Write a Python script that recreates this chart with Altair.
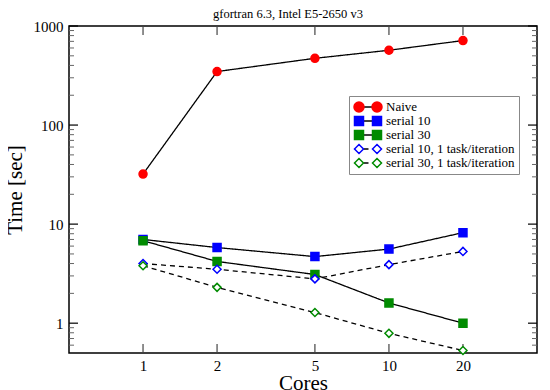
import altair as alt
import pandas as pd

# ---------------- data ----------------
cores = [1, 2, 5, 10, 20]
naive = [32, 347, 472, 569, 713]
serial10 = [7.0, 5.8, 4.7, 5.6, 8.2]
serial30 = [6.8, 4.2, 3.1, 1.6, 1.0]
serial10_task = [4.0, 3.5, 2.8, 3.9, 5.3]
serial30_task = [3.8, 2.3, 1.28, 0.79, 0.53]

series_names = [
    "Naive",
    "serial 10",
    "serial 30",
    "serial 10, 1 task/iteration",
    "serial 30, 1 task/iteration",
]
series_values = [naive, serial10, serial30, serial10_task, serial30_task]

x_major = [1, 2, 5, 10, 20]
y_major = [1, 10, 100, 1000]
y_minor = [0.6, 0.7, 0.8, 0.9,
           2, 3, 4, 5, 6, 7, 8, 9,
           20, 30, 40, 50, 60, 70, 80, 90,
           200, 300, 400, 500, 600, 700, 800, 900]

rows = []
for name, vals in zip(series_names, series_values):
    for c, v in zip(cores, vals):
        rows.append({"cores": c, "time": v, "series": name})
df = pd.DataFrame(rows)

xmaj_df = pd.DataFrame({"cores": x_major})
ymaj_df = pd.DataFrame({"time": y_major})
ymin_df = pd.DataFrame({"time": y_minor})

# ---------------- style ----------------
FONT = "Liberation Serif"
W, H = 468, 327
RED, BLUE, GREEN = "#ff0000", "#0000ff", "#008b00"

fill_range = [RED, BLUE, GREEN, "white", "white"]
stroke_range = [RED, BLUE, GREEN, BLUE, GREEN]
shape_range = ["circle", "square", "square", "diamond", "diamond"]
dash_range = [[1, 0], [1, 0], [1, 0], [5, 4], [5, 4]]

# legend symbols: marker - line - marker (custom paths, unit = 7px)
circle_pair = ("M-2,0a0.714,0.714 0 1,0 1.428,0a0.714,0.714 0 1,0 -1.428,0Z"
               "M0.572,0a0.714,0.714 0 1,0 1.428,0a0.714,0.714 0 1,0 -1.428,0Z")
square_pair = ("M-1.929,-0.643L-0.643,-0.643L-0.643,0.643L-1.929,0.643Z"
               "M0.643,-0.643L1.929,-0.643L1.929,0.643L0.643,0.643Z")
diamond_pair = ("M-1.929,0L-1.286,-0.643L-0.643,0L-1.286,0.643Z"
                "M0.643,0L1.286,-0.643L1.929,0L1.286,0.643Z")
legend_paths = [circle_pair, square_pair, square_pair, diamond_pair, diamond_pair]

xs = alt.Scale(type="log", domain=[0.5, 40], nice=False)
ys = alt.Scale(type="log", domain=[0.5, 1000], nice=False)

x_enc = alt.X("cores:Q", scale=xs,
              axis=alt.Axis(values=x_major, format="d", title="Cores"))
y_enc = alt.Y("time:Q", scale=ys,
              axis=alt.Axis(values=y_major, format="d", title="Time [sec]"))

leg_common = dict(
    orient="none", legendX=280, legendY=70, title=None, padding=4,
    rowPadding=0, symbolSize=196, clipHeight=14, labelFont=FONT, labelFontSize=13,
    labelColor="black", labelOffset=10, symbolOffset=7, labelLimit=300,
    symbolOpacity=1,
)

# connecting lines (and the line part of the legend)
lines = alt.Chart(df).mark_line(color="black", strokeWidth=1.3).encode(
    x=x_enc, y=y_enc,
    strokeDash=alt.StrokeDash(
        "series:N",
        scale=alt.Scale(domain=series_names, range=dash_range),
        legend=alt.Legend(symbolType="M-0.643,0L0.643,0", symbolStrokeColor="black",
                          symbolStrokeWidth=1.3, symbolFillColor="transparent",
                          labelOpacity=0, **leg_common),
    ),
)

# markers on the plot
points = alt.Chart(df).mark_point(filled=True, size=64, strokeWidth=1.5, opacity=1).encode(
    x=x_enc, y=y_enc,
    shape=alt.Shape("series:N", scale=alt.Scale(domain=series_names, range=shape_range), legend=None),
    fill=alt.Fill("series:N", scale=alt.Scale(domain=series_names, range=fill_range), legend=None),
    stroke=alt.Stroke("series:N", scale=alt.Scale(domain=series_names, range=stroke_range), legend=None),
)

# legend-only layer (marker pairs)
legC = alt.Legend(strokeColor="#888888", symbolStrokeWidth=1.5, **leg_common)
legend_markers = alt.Chart(df).transform_filter("false").mark_point(
    filled=True, size=64, opacity=1
).encode(
    x=x_enc, y=y_enc,
    shape=alt.Shape("series:N", scale=alt.Scale(domain=series_names, range=legend_paths), legend=legC),
    fill=alt.Fill("series:N", scale=alt.Scale(domain=series_names, range=fill_range), legend=legC),
    stroke=alt.Stroke("series:N", scale=alt.Scale(domain=series_names, range=stroke_range), legend=legC),
)

# inward ticks (mirrored on all sides)
MAJ, MIN = 9, 5
yl_maj = alt.Chart(ymaj_df).mark_rule(color="black", strokeWidth=1.2).encode(
    y=y_enc, x=alt.value(0), x2=alt.value(MAJ))
yr_maj = alt.Chart(ymaj_df).mark_rule(color="black", strokeWidth=1.2).encode(
    y=y_enc, x=alt.value(W - MAJ), x2=alt.value(W))
yl_min = alt.Chart(ymin_df).mark_rule(color="#666666", strokeWidth=1).encode(
    y=y_enc, x=alt.value(0), x2=alt.value(MIN))
yr_min = alt.Chart(ymin_df).mark_rule(color="#666666", strokeWidth=1).encode(
    y=y_enc, x=alt.value(W - MIN), x2=alt.value(W))
xb_maj = alt.Chart(xmaj_df).mark_rule(color="#444444", strokeWidth=1.2).encode(
    x=x_enc, y=alt.value(H - MAJ), y2=alt.value(H))
xt_maj = alt.Chart(xmaj_df).mark_rule(color="#444444", strokeWidth=1.2).encode(
    x=x_enc, y=alt.value(0), y2=alt.value(MAJ))

chart = alt.layer(
    yl_min, yr_min, yl_maj, yr_maj, xb_maj, xt_maj,
    lines, points, legend_markers,
).resolve_scale(
    shape="independent", fill="independent", stroke="independent"
).properties(
    width=W, height=H,
    autosize=alt.AutoSizeParams(type="none"),
    padding={"left": 61, "top": 18, "right": 5, "bottom": 37},
    title=alt.Title("gfortran 6.3, Intel E5-2650 v3", font=FONT, fontSize=12.5,
                    fontWeight="normal", color="black", dx=-15, offset=0, dy=11,
                    baseline="alphabetic", frame="group"),
).configure_view(
    stroke="black", strokeWidth=1.5
).configure_axis(
    domain=False, ticks=False, grid=False,
    labelFont=FONT, labelFontSize=15, labelColor="black",
    titleFont=FONT, titleFontSize=21, titleFontWeight="normal", titleColor="black",
).configure_axisX(
    labelPadding=5, titlePadding=-1,
).configure_axisY(
    labelPadding=6, titlePadding=8,
)

chart.save("out.html", embed_options={"renderer": "svg", "actions": False})
